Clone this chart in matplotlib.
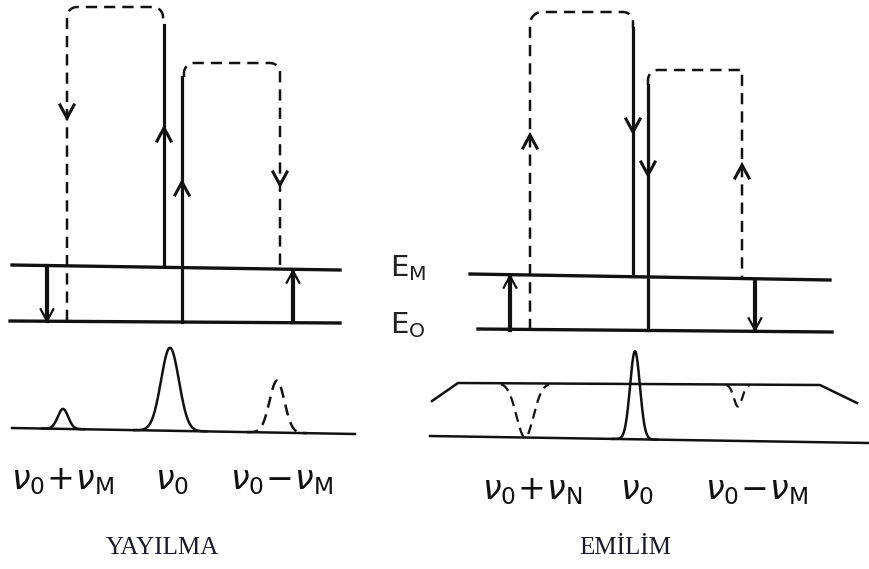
import numpy as np
import matplotlib
matplotlib.use("Agg")
import matplotlib.pyplot as plt

# ---------------- data (pixel-space diagram) ----------------
W, H = 869, 569
panel_titles = ["YAYILMA", "EMİLİM"]
title_x = [162, 625]
title_y = 548

# energy levels per panel: (x_start, x_end, y_left, y_right)
levels_left = [(12, 340, 265, 270), (10, 340, 321, 323)]
levels_right = [(470, 830, 274, 280), (478, 832, 329, 332)]
level_labels = ["$\\mathrm{E}_{\\mathrm{M}}$", "$\\mathrm{E}_{\\mathrm{O}}$"]
level_label_x = 390
level_label_y = [268, 325]

# dashed loops: (x_left, y_left_end, x_right, y_right_end, y_top, r_left, r_right)
loops_left = [(67, 321, 163, 25, 7, 10, 10), (184, 77, 280, 268, 63, 10, 10)]
loops_right = [(530, 330, 633, 28, 12, 12, 10), (648, 85, 742, 278, 70, 10, 0)]
# solid long lines: (x, y_top, y_bottom)
solids_left = [(164, 25, 266), (182, 77, 322)]
solids_right = [(633, 28, 275), (648, 85, 330)]
# chevrons on lines: (x, y, direction)  +1 = up, -1 = down
chev_left = [(67, 118, -1), (164, 128, 1), (182, 182, 1), (280, 185, -1)]
chev_right = [(530, 135, 1), (633, 132, -1), (648, 175, -1), (742, 165, 1)]
# short vibrational arrows: (x, y_from, y_to)
short_left = [(47, 266, 321), (293, 322, 271)]
short_right = [(510, 330, 276), (755, 281, 330)]

# spectra
base_left = [(12, 428), (355, 434)]
peaks_left_c = [63, 170, 277]
peaks_left_h = [20, 83, 52]
peaks_left_w = [7, 12, 10]
peaks_left_ls = ["-", "-", "--"]
spec_labels_left = ["$\\nu_\\mathrm{0}\\!+\\!\\nu_\\mathrm{M}$", "$\\nu_\\mathrm{0}$",
                    "$\\nu_\\mathrm{0}\\!-\\!\\nu_\\mathrm{M}$"]
spec_label_x_left = [63, 172, 282]

base_right = [(430, 436), (869, 443)]
cont_right_x = [432, 458, 820, 857]
cont_right_y = [401, 383, 385, 403]
peak_right = (635, 88, 7)
dips_right_c = [525, 738]
dips_right_h = [54, 22]
dips_right_w = [12, 6]
spec_labels_right = ["$\\nu_\\mathrm{0}\\!+\\!\\nu_\\mathrm{N}$", "$\\nu_\\mathrm{0}$",
                     "$\\nu_\\mathrm{0}\\!-\\!\\nu_\\mathrm{M}$"]
spec_label_x_right = [532, 637, 757]
spec_label_y = [480, 490]

# ---------------- drawing ----------------
fig = plt.figure(figsize=(W / 100, H / 100), dpi=100)
ax = fig.add_axes([0, 0, 1, 1])
ax.set_xlim(0, W)
ax.set_ylim(H, 0)
ax.axis("off")
K = "#111111"
DASH = (0, (4.5, 2.8))


def loop(xl, yl, xr, yr, yt, rl, rr):
    t = np.linspace(0, np.pi / 2, 15)
    xs = [xl]
    ys = [yl]
    xs += list(xl + rl - rl * np.cos(t))
    ys += list(yt + rl - rl * np.sin(t))
    xs += list(xr - rr + rr * np.sin(t))
    ys += list(yt + rr - rr * np.cos(t))
    xs.append(xr)
    ys.append(yr)
    ax.plot(xs, ys, color=K, lw=1.8, ls=DASH, solid_capstyle="butt")


def chevron(x, y, d, size=10, lw=2.2):
    ax.plot([x - size * 0.7, x, x + size * 0.7], [y + d * size * 1.3, y, y + d * size * 1.3],
            color=K, lw=lw, solid_joinstyle="miter")


def panel(levels, loops, solids, chevs, shorts):
    for x0, x1, y0, y1 in levels:
        ax.plot([x0, x1], [y0, y1], color=K, lw=2.4)
    for lp in loops:
        loop(*lp)
    for x, yt, yb in solids:
        ax.plot([x, x], [yt, yb], color=K, lw=2.3)
    for x, y, d in chevs:
        chevron(x, y, d)
    for x, y0, y1 in shorts:
        ax.plot([x, x], [y0, y1], color=K, lw=3.0)
        d = 1 if y1 < y0 else -1
        chevron(x, y1, d, size=9, lw=1.6)


panel(levels_left, loops_left, solids_left, chev_left, short_left)
panel(levels_right, loops_right, solids_right, chev_right, short_right)

for lab, y in zip(level_labels, level_label_y):
    ax.text(level_label_x, y, lab, fontsize=21, color="#222222", ha="left", va="center",
            fontfamily="DejaVu Sans")


def baseline(pts, x):
    (xa, ya), (xb, yb) = pts
    return ya + (yb - ya) * (x - xa) / (xb - xa)


# left spectrum
(xa, ya), (xb, yb) = base_left
ax.plot([xa, xb], [ya, yb], color=K, lw=1.8)
for c, h, w, ls in zip(peaks_left_c, peaks_left_h, peaks_left_w, peaks_left_ls):
    x = np.linspace(c - 3 * w, c + 3 * w, 200)
    prof = h * np.exp(-((x - c) / w) ** 2 * 0.9)
    ax.plot(x, baseline(base_left, x) - prof, color=K, lw=1.8, ls=ls if ls == "-" else DASH)
for lab, x in zip(spec_labels_left, spec_label_x_left):
    ax.text(x, spec_label_y[0], lab, fontsize=24, color=K, ha="center", va="center")

# right spectrum
(xa, ya), (xb, yb) = base_right
ax.plot([xa, xb], [ya, yb], color=K, lw=1.8)
ax.plot(cont_right_x, cont_right_y, color=K, lw=1.8)
c, h, w = peak_right
x = np.linspace(c - 3.2 * w, c + 3.2 * w, 200)
ax.plot(x, baseline(base_right, x) - h * np.exp(-((x - c) / w) ** 2), color=K, lw=1.8)
for c, h, w in zip(dips_right_c, dips_right_h, dips_right_w):
    x = np.linspace(c - 2.0 * w, c + 2.0 * w, 200)
    ytop = np.interp(x, cont_right_x, cont_right_y)
    ax.plot(x, ytop + h * np.exp(-((x - c) / w) ** 2), color=K, lw=1.6, ls=DASH)
for lab, x in zip(spec_labels_right, spec_label_x_right):
    ax.text(x, spec_label_y[1], lab, fontsize=24, color=K, ha="center", va="center")

for t, x in zip(panel_titles, title_x):
    ax.text(x, title_y, t, fontsize=18, color="#1a1a2a", ha="center", va="center",
            fontfamily="Liberation Serif")

fig.savefig("out.png", dpi=100, facecolor="white")
